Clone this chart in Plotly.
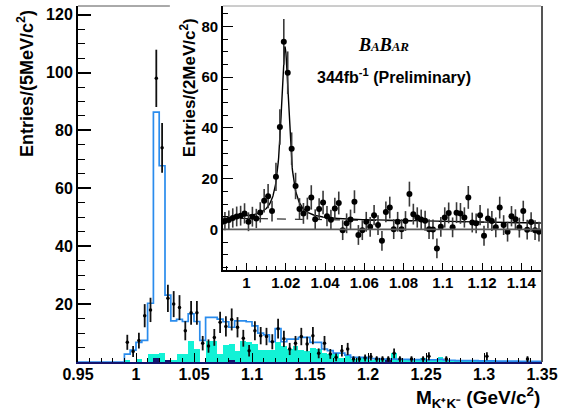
import numpy as np
import plotly.graph_objects as go

# ---------------- main histogram (5 MeV bins, 0.95 - 1.35 GeV) ----------------
MAIN_LO, MAIN_HI, MAIN_BW = 0.95, 1.35, 0.005

main_counts = [0, 0, 0, 0, 0, 0, 0, 0,
               6.8, 3.6, 7.4, 16, 18, 98, 74, 22, 20, 18.8,
               10.8, 17, 17, 6.5, 5.5, 8.5, 13.7, 12.3, 14.7, 12,
               8.2, 3.9, 10.8, 9.1, 8.8, 7, 11.5, 8, 4.5, 6.5,
               8.8, 6.2, 9.1, 3, 6.5, 2.8, 1.6, 3.9, 4.5, 1,
               1, 1.4, 1.8, 1, 1, 1, 3, 1, 0, 1,
               0, 1, 2, 0, 0, 1, 0, 0, 0, 0,
               0, 0, 2, 0, 0, 0, 0, 0, 0, 1, 0, 0]
main_errs = [0, 0, 0, 0, 0, 0, 0, 0,
             2.6, 1.9, 2.7, 4.0, 4.2, 9.9, 8.6, 4.7, 4.5, 4.3,
             3.3, 4.1, 4.1, 2.5, 2.3, 2.9, 3.7, 3.5, 3.8, 3.5,
             2.9, 2.0, 3.3, 3.0, 3.0, 2.6, 3.4, 2.8, 2.1, 2.5,
             3.0, 2.5, 3.0, 1.7, 2.5, 1.7, 1.3, 2.0, 2.1, 1.0,
             1.0, 1.2, 1.3, 1.0, 1.0, 1.0, 1.7, 1.0, 0, 1.0,
             0, 1.0, 1.4, 0, 0, 1.0, 0, 0, 0, 0,
             0, 0, 1.4, 0, 0, 0, 0, 0, 0, 1.0, 0, 0]
mc_total = [0, 0, 0, 0, 0, 0, 0, 0,
            2.7, 4.1, 6.8, 7.5, 20.3, 86.3, 67.8, 23.1, 14.2, 14.7,
            14.0, 16.6, 14.0, 7.5, 15.4, 15.4, 14.8, 13.9, 12.0, 14.2,
            14.2, 13.9, 12.5, 10.0, 9.4, 7.0, 11.5, 7.0, 7.9, 7.9,
            8.5, 8.5, 6.8, 6.8, 4.5, 3.9, 3.1, 3.1, 2.4, 1.6,
            1.6, 1.6, 1.2, 1.2, 1.0, 1.0, 1.0, 0.9, 0.9, 0.8,
            0.8, 0.8, 0.7, 0.7, 0.9, 0.6, 0.6, 0.5, 0.5, 0.5,
            0.5, 0.4, 0.4, 0.4, 0.3, 0.3, 0.3, 0.3, 0.2, 0.2, 0.2, 0.2]
bkg_cyan = [0, 0, 0, 0, 0, 0, 0, 0,
            0.8, 0, 1.0, 0, 2.6, 2.6, 3.0, 0.7, 0.5, 2.7,
            2.7, 7.1, 4.5, 0, 7.1, 7.1, 2.7, 6.0, 6.2, 3.9,
            7.1, 7.0, 6.2, 4.2, 4.0, 4.2, 6.8, 5.6, 4.5, 5.6,
            4.2, 3.9, 5.0, 4.5, 3.1, 2.7, 2.9, 1.5, 2.0, 0.9,
            1.3, 1.3, 0.8, 1.0, 0.5, 0.4, 3.0, 1.1, 0.6, 0.6,
            0.9, 1.4, 0.5, 0.5, 1.9, 0.4, 0.3, 0.3, 0.5, 0.3,
            0.6, 0.3, 0.3, 0.2, 0.3, 0.2, 0.2, 0.2, 0.2, 0.1, 0.1, 0.1]
bkg_navy = [0] * 13 + [1.3, 0, 0.6] + [0] * 10 + [0.5] + [0] * 26 + [0.4] + [0] * 26

main_xticks = [0.95, 1.0, 1.05, 1.1, 1.15, 1.2, 1.25, 1.3, 1.35]
main_xlabels = ["0.95", "1", "1.05", "1.1", "1.15", "1.2", "1.25", "1.3", "1.35"]
main_yticks = [20, 40, 60, 80, 100, 120]

# ---------------- inset (2 MeV bins, background-subtracted) ----------------
INSET_LO, INSET_HI, INSET_BW = 0.988, 1.15, 0.002
inset_vals = [3.3, 3.7, 4.5, 5.1, 5.4, 6.3, 3.0, 5.0, 4.3, 6.7,
              11.3, 13.1, 7.2, 20.7, 40.3, 73.9, 61.7, 31.8, 17.1, 8.0,
              6.3, 8.2, 12.6, 4.0, 8.0, 10.6, 5.2, 3.8, 8.2, 10.4,
              -0.3, 2.4, 3.9, 10.9, -2.2, -0.3, 3.0, 1.0, 5.6, 1.7,
              -4.5, 6.9, 8.6, 0.1, 3.0, 0.1, 3.3, 13.9, 6.0, 4.7,
              3.9, 3.4, 0.1, 0.0, -7.5, 1.0, 4.7, 6.5, 0.8, 6.6,
              6.3, 4.7, 12.6, 2.7, 2.4, 5.6, -2.5, 4.3, 3.3, 0.8,
              8.6, 1.7, -0.9, 5.2, 4.0, 0.7, 7.2, -0.1, 2.9, -0.3, -0.9]
inset_errs = [3.6, 3.7, 3.8, 3.9, 3.9, 4.0, 3.7, 3.9, 3.8, 4.0,
              4.6, 4.8, 4.1, 5.6, 7.0, 9.0, 8.4, 6.4, 5.2, 4.3,
              4.1, 4.3, 4.8, 3.9, 4.3, 4.6, 4.0, 3.9, 4.3, 4.5,
              3.9, 3.9, 3.9, 4.5, 3.9, 3.9, 3.9, 3.9, 4.0, 3.9,
              3.9, 4.1, 4.3, 3.9, 3.9, 3.9, 3.9, 4.9, 4.1, 4.0,
              3.9, 3.9, 3.9, 3.9, 3.9, 3.9, 4.0, 4.1, 3.9, 4.1,
              4.1, 4.0, 4.5, 3.9, 3.9, 4.0, 3.9, 3.9, 3.9, 3.9,
              4.3, 3.9, 3.9, 4.0, 3.9, 3.9, 4.1, 3.9, 3.9, 3.9, 3.9]
inset_xticks = [1.0, 1.02, 1.04, 1.06, 1.08, 1.1, 1.12, 1.14]
inset_xlabels = ["1", "1.02", "1.04", "1.06", "1.08", "1.1", "1.12", "1.14"]
inset_yticks = [0, 20, 40, 60, 80]

# fit parameters (Breit-Wigner + linear background, KK threshold)
FIT_MASS = 1.0196
FIT_HALFWIDTH = 0.0024
FIT_AMP = 68.0
FIT_B0 = 4.3
FIT_B1 = -12.0
KK_THRESHOLD = 0.9874
THR_SCALE = 0.0012

# ---------------- derived geometry from bins ----------------
n_main = len(main_counts)
edges = MAIN_LO + MAIN_BW * np.arange(n_main + 1)
centers = edges[:-1] + MAIN_BW / 2
sel = [i for i in range(n_main) if main_counts[i] > 0]

n_in = len(inset_vals)
in_centers = INSET_LO + INSET_BW * (np.arange(n_in) + 0.5)

m = np.linspace(INSET_LO, INSET_HI, 800)
bkg_fn = FIT_B0 + FIT_B1 * (m - 1.0)
sig_fn = FIT_AMP * FIT_HALFWIDTH ** 2 / ((m - FIT_MASS) ** 2 + FIT_HALFWIDTH ** 2)
thr = 1 - np.exp(-(m - KK_THRESHOLD) / THR_SCALE)
tot_fn = (bkg_fn + sig_fn) * thr

CYAN = "#12f2d6"
NAVY = "#14146e"
BLUE = "#2a8ced"
FONT = "Liberation Sans"

fig = go.Figure()

# main plot
fig.add_trace(go.Bar(x=centers, y=bkg_cyan, width=MAIN_BW, marker=dict(color=CYAN, line_width=0),
                     xaxis="x", yaxis="y", showlegend=False))
fig.add_trace(go.Bar(x=centers, y=bkg_navy, width=MAIN_BW, marker=dict(color=NAVY, line_width=0),
                     xaxis="x", yaxis="y", showlegend=False))
fig.add_trace(go.Scatter(x=edges, y=list(mc_total) + [mc_total[-1]], mode="lines",
                         line=dict(color=BLUE, width=1.7, shape="hv"),
                         xaxis="x", yaxis="y", showlegend=False))
fig.add_trace(go.Scatter(x=centers[sel], y=[main_counts[i] for i in sel], mode="markers",
                         marker=dict(color="black", size=3.5),
                         error_y=dict(type="data", array=[main_errs[i] for i in sel], width=0,
                                      thickness=1.8, color="#111111"),
                         xaxis="x", yaxis="y", showlegend=False))

# inset
fig.add_trace(go.Scatter(x=m, y=bkg_fn, mode="lines", line=dict(color="black", width=1, dash="dash"),
                         xaxis="x2", yaxis="y2", showlegend=False))
fig.add_trace(go.Scatter(x=m, y=tot_fn, mode="lines", line=dict(color="black", width=1.4),
                         xaxis="x2", yaxis="y2", showlegend=False))
fig.add_trace(go.Scatter(x=in_centers, y=inset_vals, mode="markers",
                         marker=dict(color="black", size=6),
                         error_y=dict(type="data", array=inset_errs, width=0, thickness=1.6,
                                      color="#3a3a3a"),
                         xaxis="x2", yaxis="y2", showlegend=False))

tickfont = dict(family=FONT, size=16, color="black", weight="bold")
tickfont2 = dict(family=FONT, size=15, color="black", weight="bold")

fig.update_layout(
    width=563, height=410,
    margin=dict(l=78, r=21, t=6, b=48),
    paper_bgcolor="white", plot_bgcolor="white",
    barmode="overlay", bargap=0,
    xaxis=dict(domain=[0, 1], range=[MAIN_LO, MAIN_HI], tickmode="array", tickvals=main_xticks,
               ticktext=main_xlabels, ticks="inside", ticklen=9, tickwidth=1.2, tickcolor="black",
               minor=dict(tickmode="linear", tick0=MAIN_LO, dtick=0.01, ticklen=4, ticks="inside",
                          tickcolor="black", tickwidth=1),
               showline=True, linecolor=NAVY, linewidth=2.2, showgrid=False, zeroline=False,
               tickfont=tickfont, ticklabelstandoff=-3),
    yaxis=dict(domain=[0, 1], range=[0, 123], tickmode="array", tickvals=main_yticks,
               ticks="inside", ticklen=13, tickwidth=1.5, tickcolor="black",
               minor=dict(tickmode="linear", tick0=0, dtick=5, ticklen=7, ticks="inside",
                          tickcolor="black", tickwidth=1.2),
               showline=True, linecolor="black", linewidth=2, showgrid=False, zeroline=False,
               tickfont=tickfont),
    xaxis2=dict(domain=[0.3124, 0.9977], anchor="y2", range=[INSET_LO, INSET_HI], tickmode="array",
                tickvals=inset_xticks, ticktext=inset_xlabels, ticks="inside", ticklen=7,
                tickwidth=1.2, tickcolor="black",
                minor=dict(tickmode="linear", tick0=1.0, dtick=0.005, ticklen=4, ticks="inside",
                           tickcolor="black", tickwidth=1),
                showline=True, linecolor="black", linewidth=1.5, showgrid=False, zeroline=False,
                tickfont=tickfont2, ticklabelstandoff=-2),
    yaxis2=dict(domain=[0.2584, 1.0], anchor="x2", range=[-16, 88], tickmode="array",
                tickvals=inset_yticks, ticks="inside", ticklen=10, tickwidth=1.2, tickcolor="black",
                minor=dict(tickmode="linear", tick0=0, dtick=5, ticklen=5, ticks="inside",
                           tickcolor="black", tickwidth=1),
                showline=True, linecolor="black", linewidth=1.5, showgrid=False, zeroline=False,
                tickfont=tickfont2),
)

shapes = [
    # main frame: top segment (rest hidden by inset pad) and right edge
    dict(type="line", xref="paper", yref="paper", x0=0, x1=0.198, y0=1, y1=1,
         line=dict(color="#555555", width=1)),
    dict(type="line", xref="paper", yref="paper", x0=1, x1=1, y0=0, y1=1.0,
         line=dict(color="#555555", width=2)),
    # inset frame top
    dict(type="line", xref="x2 domain", yref="y2 domain", x0=0, x1=1, y0=1, y1=1,
         line=dict(color="#9a9a9a", width=1)),
    # inset zero line
    dict(type="line", xref="x2 domain", yref="y2", x0=0, x1=1, y0=0, y1=0,
         line=dict(color="#5a5a5a", width=1.8)),
]
fig.update_layout(shapes=shapes)

annotations = [
    dict(text="Entries/(5MeV/c<sup>2</sup>)", xref="paper", yref="paper", x=-0.112, y=0.781,
         xanchor="center", yanchor="middle", textangle=-90, showarrow=False,
         font=dict(family=FONT, size=18, color="black", weight="bold")),
    dict(text="Entries/(2MeV/c<sup>2</sup>)", xref="paper", yref="paper", x=0.237, y=0.772,
         xanchor="center", yanchor="middle", textangle=-90, showarrow=False,
         font=dict(family=FONT, size=17, color="black", weight="bold")),
    dict(text="M<sub>K⁺K⁻</sub> (GeV/c<sup>2</sup>)", xref="paper", yref="paper", x=0.999, y=-0.1,
         xanchor="right", yanchor="middle", showarrow=False,
         font=dict(family=FONT, size=19, color="black", weight="bold")),
    dict(text="<b><i>B<span style='font-size:13px'>A</span>B<span style='font-size:13px'>AR</span></i></b>",
         xref="paper", yref="paper", x=(383 - 78) / 464, y=(362 - 45) / 356,
         xanchor="center", yanchor="middle", showarrow=False,
         font=dict(family="Liberation Serif", size=18, color="black")),
    dict(text="344fb<sup>-1</sup> (Preliminary)", xref="paper", yref="paper",
         x=(394 - 78) / 464, y=(362 - 76) / 356, xanchor="center", yanchor="middle", showarrow=False,
         font=dict(family=FONT, size=16, color="black", weight="bold")),
]
fig.update_layout(annotations=annotations)

fig.write_html("out.html", config={"displayModeBar": False},
               post_script="document.body.style.margin='0';document.body.style.padding='0';")
